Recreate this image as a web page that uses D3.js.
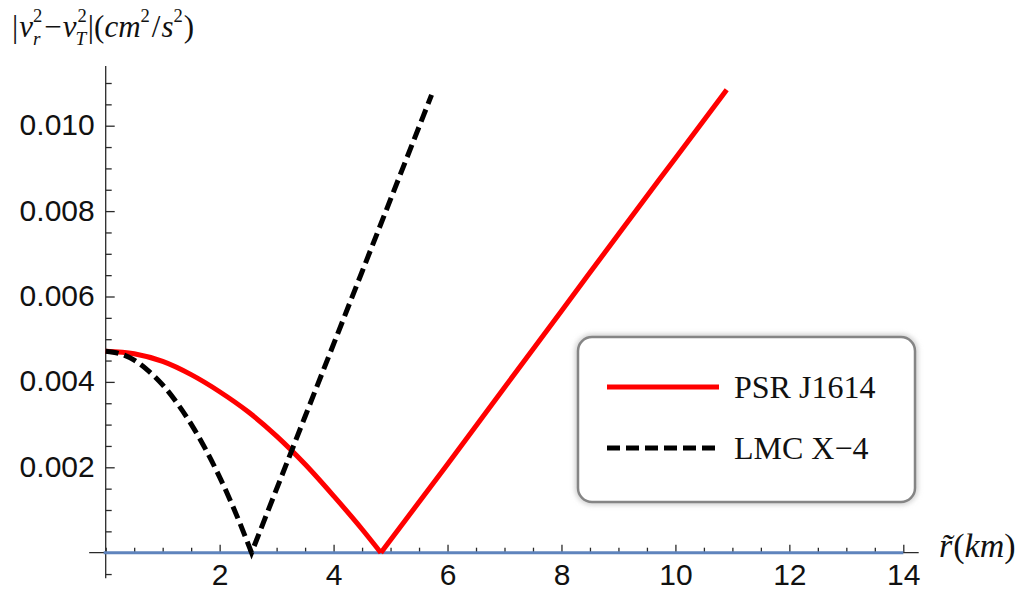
<!DOCTYPE html>
<html><head><meta charset="utf-8">
<script src="https://cdn.jsdelivr.net/npm/d3@7"></script>
<style>html,body{margin:0;padding:0;background:#fff;} svg{display:block}</style>
</head><body>
<svg id="chart" width="1022" height="591"></svg>
<script>
// Radial coordinate r~ (km) and |v_r^2 - v_T^2| values for each star model
const psrR = [0, 0.5, 1, 1.5, 2, 2.5, 3, 3.5, 4, 4.5, 4.83, 6, 7, 8, 9, 10, 10.9];
const psrV = [0.00472, 0.00466, 0.00448, 0.00417, 0.00377, 0.00330, 0.00273, 0.00207, 0.00133, 0.00055, 0,
              0.00207, 0.00387, 0.00566, 0.00746, 0.00924, 0.01084];
const lmcR = [0, 0.25, 0.5, 0.75, 1.0, 1.25, 1.5, 1.75, 2.0, 2.25, 2.56, 3.5, 4.5, 5.72];
const lmcV = [0.00472, 0.00466, 0.00451, 0.00426, 0.00393, 0.00351, 0.00301, 0.00243, 0.00177, 0.00103, 0,
              0.00319, 0.00658, 0.01072];

const seriesNames = ["PSR J1614", "LMC X\u22124"];
const xMajorTicks = [2, 4, 6, 8, 10, 12, 14];
const yMajorTicks = [0.002, 0.004, 0.006, 0.008, 0.010];
const yTickLabels = ["0.002", "0.004", "0.006", "0.008", "0.010"];

const svg = d3.select("#chart");

const x = d3.scaleLinear().domain([0, 14]).range([105.7, 903.3]);
const y = d3.scaleLinear().domain([0, 0.011]).range([552.7, 83]);

const axisColor = "#2a2a2a";
const tickFont = "'Liberation Sans', Arial, sans-serif";
const serif = "'Liberation Serif', 'Times New Roman', serif";

// minor ticks
const xMinor = d3.range(0, 14.001, 0.5).filter(v => !xMajorTicks.includes(v));
const yMinor = d3.range(-0.0005, 0.01101, 0.0005).filter(v => !yMajorTicks.some(t => Math.abs(t - v) < 1e-9));

const gx = svg.append("g").attr("transform", `translate(0,${y(0)})`);
gx.call(d3.axisBottom(x).tickValues(xMinor).tickSizeInner(-5).tickSizeOuter(0).tickFormat(""));
gx.call(g => g.select(".domain").remove());
const gx2 = svg.append("g").attr("transform", `translate(0,${y(0)})`);
gx2.call(d3.axisBottom(x).tickValues(xMajorTicks).tickSizeInner(-8).tickSizeOuter(0).tickPadding(11));
gx2.select(".domain").remove();
[gx, gx2].forEach(g => {
  g.selectAll("line").attr("stroke", axisColor).attr("stroke-width", 1.3);
  g.selectAll("text").attr("font-family", tickFont).attr("font-size", 30).attr("fill", "#111");
});

const gy = svg.append("g").attr("transform", `translate(${x(0)},0)`);
gy.call(d3.axisLeft(y).tickValues(yMinor).tickSizeInner(-6).tickSizeOuter(0).tickFormat(""));
gy.select(".domain").remove();
const gy2 = svg.append("g").attr("transform", `translate(${x(0)},0)`);
gy2.call(d3.axisLeft(y).tickValues(yMajorTicks).tickSizeInner(-9).tickSizeOuter(0).tickPadding(11)
  .tickFormat((d, i) => yTickLabels[i]));
gy2.select(".domain").remove();
[gy, gy2].forEach(g => {
  g.selectAll("line").attr("stroke", axisColor).attr("stroke-width", 1.3);
  g.selectAll("text").attr("font-family", tickFont).attr("font-size", 30).attr("fill", "#111").attr("dy", "0.30em");
});

// axis lines
svg.append("line").attr("x1", x(-0.29)).attr("x2", x(14.27)).attr("y1", y(0)).attr("y2", y(0))
  .attr("stroke", axisColor).attr("stroke-width", 1.3);
svg.append("line").attr("x1", x(0)).attr("x2", x(0)).attr("y1", y(-0.0006)).attr("y2", y(0.0114))
  .attr("stroke", axisColor).attr("stroke-width", 1.3);

// zero line
svg.append("line").attr("x1", x(0) - 2).attr("x2", x(14)).attr("y1", y(0)).attr("y2", y(0))
  .attr("stroke", "#5f84bd").attr("stroke-width", 3);

// curves: split each series at its zero crossing so the cusp stays sharp
function segments(rs, vs) {
  const pts = rs.map((r, i) => [r, vs[i]]);
  const k = vs.indexOf(0);
  return [pts.slice(0, k + 1), pts.slice(k)];
}
const line = d3.line().x(d => x(d[0])).y(d => y(d[1])).curve(d3.curveMonotoneX);

const red = "#ff0000";
segments(psrR, psrV).forEach(seg => {
  svg.append("path").attr("d", line(seg)).attr("fill", "none")
    .attr("stroke", red).attr("stroke-width", 5).attr("stroke-linejoin", "round");
});
svg.append("path").attr("d", (() => {
  const [a, b] = segments(lmcR, lmcV);
  return line(a) + line(b).replace(/^M/, "L");
})()).attr("fill", "none").attr("stroke", "#000").attr("stroke-width", 5)
  .attr("stroke-dasharray", "13,6");

// axis titles: one text element per title, with super/subscripts as tspans
const SUP_SHIFT = -15, SUB_SHIFT = 8;
function mathText(x0, y0, size, parts) {
  const text = svg.append("text").attr("x", x0).attr("y", y0)
    .attr("font-family", serif).attr("font-size", size).attr("fill", "#111");
  let level = 0;          // current baseline offset
  let pending = 0;        // extra advance owed after a super/sub stack
  parts.forEach(p => {
    if (p.sup !== undefined) {
      const sup = text.append("tspan").attr("dx", (p.dx || 0)).attr("dy", SUP_SHIFT - level)
        .attr("font-size", size * 0.6).text(p.sup);
      level = SUP_SHIFT;
      const wSup = sup.node().getComputedTextLength();
      if (p.sub !== undefined) {
        const sub = text.append("tspan").attr("dx", -wSup + (p.subDx || 0)).attr("dy", SUB_SHIFT - level)
          .attr("font-size", size * 0.62).attr("font-style", "italic").text(p.sub);
        level = SUB_SHIFT;
        const wSub = sub.node().getComputedTextLength() + (p.subDx || 0);
        pending = Math.max(0, wSup - wSub);
      } else {
        pending = 0;
      }
    } else {
      text.append("tspan").attr("dx", pending + (p.before || 0)).attr("dy", -level)
        .attr("font-style", p.italic ? "italic" : "normal").text(p.t);
      level = 0;
      pending = 0;
    }
  });
  return text;
}

mathText(12, 37, 31, [
  { t: "|" },
  { t: "v", italic: true, before: 1 },
  { sup: "2", sub: "r" },
  { t: "\u2212", before: 2 },
  { t: "v", italic: true, before: 1 },
  { sup: "2", dx: 1, sub: "T", subDx: -2 },
  { t: "|", before: 1 },
  { t: "(" },
  { t: "cm", italic: true },
  { sup: "2" },
  { t: "/", before: 2 },
  { t: "s", italic: true, before: 1 },
  { sup: "2" },
  { t: ")", before: 1 }
]);

mathText(939, 557, 34, [
  { t: "r\u0303", italic: true },
  { t: "(", before: 1 },
  { t: "km", italic: true },
  { t: ")" }
]);

// legend
const defs = svg.append("defs");
defs.append("filter").attr("id", "soft").attr("x", "-10%").attr("y", "-10%").attr("width", "120%").attr("height", "120%")
  .append("feGaussianBlur").attr("stdDeviation", 2.5);
const lg = svg.append("g");
lg.append("rect").attr("x", 578).attr("y", 337).attr("width", 337).attr("height", 165).attr("rx", 14)
  .attr("fill", "none").attr("stroke", "#cfcfcf").attr("stroke-width", 6).attr("filter", "url(#soft)");
lg.append("rect").attr("x", 578).attr("y", 337).attr("width", 337).attr("height", 165).attr("rx", 14)
  .attr("fill", "#fff").attr("stroke", "#858585").attr("stroke-width", 2.5);

const legendRows = [
  { name: seriesNames[0], color: red, dash: null, ly: 387, ty: 398 },
  { name: seriesNames[1], color: "#000", dash: "13,6", ly: 448, ty: 459 }
];
legendRows.forEach(r => {
  lg.append("line").attr("x1", 607).attr("x2", 719).attr("y1", r.ly).attr("y2", r.ly)
    .attr("stroke", r.color).attr("stroke-width", 5).attr("stroke-dasharray", r.dash);
  lg.append("text").attr("x", 734).attr("y", r.ty).attr("font-family", serif).attr("font-size", 32)
    .attr("fill", "#111").text(r.name);
});
</script>
</body></html>
